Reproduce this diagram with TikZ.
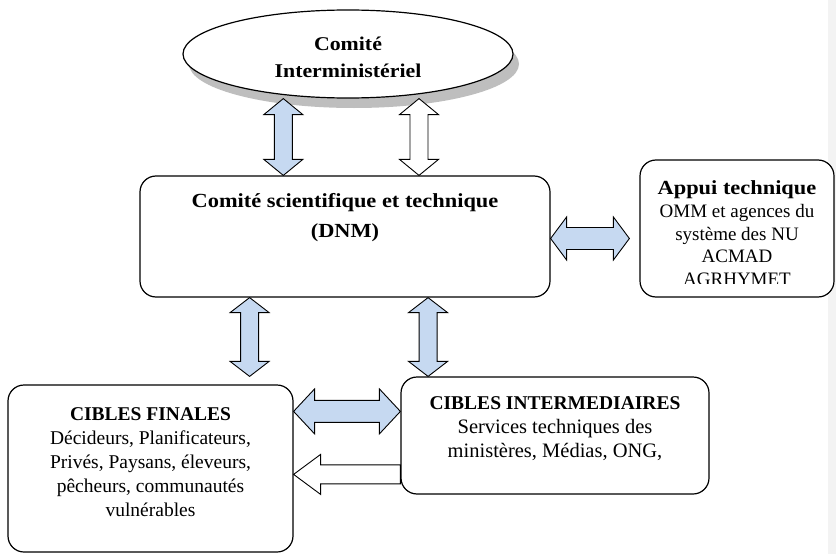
\documentclass[tikz,border=0pt]{standalone}
\usepackage{fontspec}
\setmainfont{Liberation Serif}
\newfontfamily\widebf{Liberation Serif}[FakeStretch=1.12]
\usetikzlibrary{positioning,calc,shadows,shapes.geometric}
\definecolor{arrowblue}{RGB}{198,217,241}
\definecolor{shadowgray}{RGB}{190,190,190}
\definecolor{margingray}{RGB}{243,243,243}

% block arrow, two heads: [fill]{from}{to}{head length}{head half width}{shaft half width}
\newcommand{\dblarrow}[6][arrowblue]{%
  \path (#2) coordinate (da) (#3) coordinate (db);
  \path ($(da)!#4!(db)$) coordinate (dc) ($(db)!#4!(da)$) coordinate (dd);
  \draw[line width=0.9pt, fill=#1] (da) -- ($(dc)!#5!90:(db)$) -- ($(dc)!#6!90:(db)$)
    -- ($(dd)!#6!90:(db)$) -- ($(dd)!#5!90:(db)$) -- (db) -- ($(dd)!#5!-90:(db)$)
    -- ($(dd)!#6!-90:(db)$) -- ($(dc)!#6!-90:(db)$) -- ($(dc)!#5!-90:(db)$) -- cycle;
}
% block arrow, one head: [fill]{tail}{tip}{head length}{head half width}{shaft half width}
\newcommand{\onearrow}[6][white]{%
  \path (#2) coordinate (da) (#3) coordinate (db);
  \path ($(db)!#4!(da)$) coordinate (dc);
  \draw[line width=0.9pt, fill=#1] (db) -- ($(dc)!#5!90:(db)$) -- ($(dc)!#6!90:(db)$)
    -- ($(da)!#6!90:(db)$) -- ($(da)!#6!-90:(db)$) -- ($(dc)!#6!-90:(db)$)
    -- ($(dc)!#5!-90:(db)$) -- cycle;
}

\begin{document}
\begin{tikzpicture}[x=1pt,y=-1pt,
    box/.style={draw, line width=1.2pt, rounded corners=16pt, fill=white, inner sep=0pt},
    boxtext/.style={align=center, inner sep=0pt, font=\fontsize{19.5}{24}\selectfont}]
  \useasboundingbox (0,0) rectangle (836,554);
  \fill[margingray] (828,0) rectangle (836,554);

  % top committee
  \node[draw, ellipse, line width=1.2pt, fill=white, minimum width=330pt, minimum height=88pt,
        drop shadow={shadow xshift=6pt, shadow yshift=-10pt, fill=shadowgray, opacity=1}]
        (ci) at (348,54) {};
  \node[boxtext, font=\fontsize{19.5}{27}\selectfont\widebf\bfseries] (ci text)
        at ($(ci.center)+(0,3)$) {Comité\\Interministériel};

  % boxes
  \node[box, minimum width=410pt, minimum height=121pt] (dnm) at (345,236.5) {};
  \node[boxtext, font=\fontsize{20}{30}\selectfont\widebf\bfseries, below=18pt of dnm.north]
        (dnm text) {Comité scientifique et technique\\(DNM)};

  \node[box, minimum width=194pt, minimum height=137pt] (appui) at (737,228.5) {};
  \begin{scope}
    \clip (appui.north west) rectangle ($(appui.south east)+(0,-14)$);
    \node[boxtext, font=\fontsize{19}{22.5}\selectfont, below=21pt of appui.north]
          (appui text) {{\fontsize{20}{22.5}\selectfont\widebf\bfseries Appui technique}\\[1pt]OMM et agences du\\système des NU\\ACMAD\\AGRHYMET};
  \end{scope}

  \node[box, minimum width=308pt, minimum height=117pt] (inter) at (555,435.5) {};
  \node[boxtext, font=\fontsize{20.5}{24}\selectfont, below=20pt of inter.north]
        (inter text) {{\fontsize{19.5}{24}\selectfont\bfseries CIBLES INTERMEDIAIRES}\\Services techniques des\\ministères, Médias, ONG,};

  \node[box, minimum width=285pt, minimum height=167pt] (fin) at (150.5,468.5) {};
  \node[boxtext, below=23pt of fin.north]
        (fin text) {{\bfseries CIBLES FINALES}\\Décideurs, Planificateurs,\\Privés, Paysans, éleveurs,\\pêcheurs, communautés\\vulnérables};

  % arrows
  \coordinate (a1) at ($(dnm.north west)!.35!(dnm.north east)$);
  \coordinate (a2) at ($(dnm.north west)!.68!(dnm.north east)$);
  \dblarrow{a1 |- ci.south}{a1}{16pt}{19.5pt}{9pt}
  \dblarrow[white]{a2 |- ci.south}{a2}{16pt}{19.5pt}{9pt}

  \coordinate (a3) at ($(appui.west |- dnm.east)+(-10,2)$);
  \dblarrow{dnm.east |- a3}{a3}{16pt}{21.5pt}{11pt}

  \coordinate (b1) at ($(dnm.south west)!.268!(dnm.south east)$);
  \coordinate (b2) at ($(dnm.south west)!.702!(dnm.south east)$);
  \dblarrow{b1}{b1 |- inter.north}{15pt}{19.5pt}{9pt}
  \dblarrow{b2}{b2 |- inter.north}{15pt}{19.5pt}{9pt}

  \coordinate (c1) at ($(inter.north west)+(0,35)$);
  \dblarrow{fin.east |- c1}{c1}{21pt}{22.5pt}{11pt}
  \coordinate (c2) at ($(inter.north west)+(0,98)$);
  \onearrow{c2}{fin.east |- c2}{27pt}{20pt}{9.5pt}
\end{tikzpicture}
\end{document}
